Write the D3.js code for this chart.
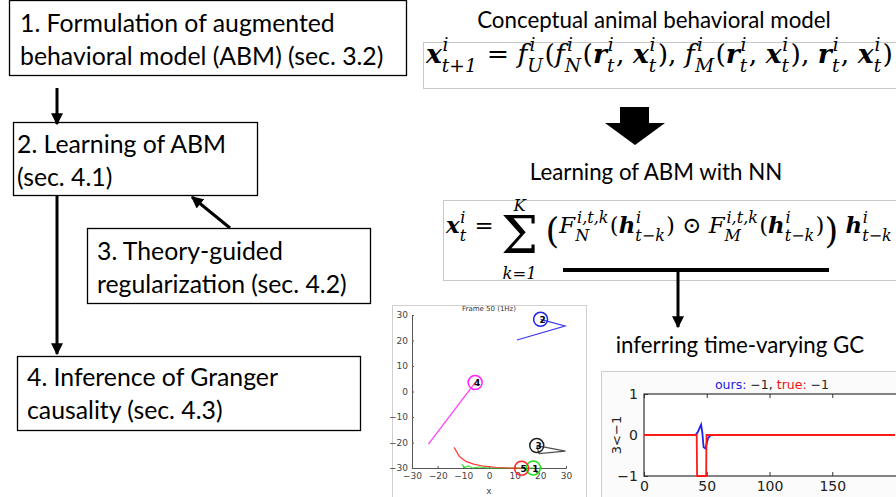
<!DOCTYPE html>
<html>
<head>
<meta charset="utf-8">
<script src="https://cdn.jsdelivr.net/npm/d3@7"></script>
<style>
	body { margin: 0; background: #fff; }
	svg { display: block; }
	.lbl { font-family: Lato, 'Open Sans', sans-serif; fill: #000; }
	.math text { font-family: 'DejaVu Serif', serif; fill: #000; white-space: pre; }
</style>
</head>
<body>
<div id="box"></div>
<script>
// --- data -----------------------------------------------------------------

const stepBoxes = [
	{ id: 1, lines: ['1. Formulation of augmented', 'behavioral model (ABM) (sec. 3.2)'] },
	{ id: 2, lines: ['2. Learning of ABM', '(sec. 4.1)'] },
	{ id: 3, lines: ['3. Theory-guided', 'regularization (sec. 4.2)'] },
	{ id: 4, lines: ['4. Inference of Granger', 'causality (sec. 4.3)'] },
];

const headings = ['Conceptual animal behavioral model', 'Learning of ABM with NN', 'inferring time-varying GC'];

// trajectories in the frame plot, [x, y]
const agentIds = ['1', '2', '3', '4', '5'];
const agentColors = ['#22dd22', '#2222ee', '#222222', '#ff22ff', '#ff2222'];
const trackGreen = [[-10.6, -28.6], [-9.5, -29.8], [-8, -29.2], [-6.5, -30], [-4, -29.6], [0, -30], [8, -30], [17.3, -30]];
const trackBlue = [[10.9, 20.2], [29.6, 25.7], [20.1, 28.3]];
const trackBlack = [[18.6, -21.2], [29.8, -23.4], [19.5, -24.4], [18.6, -21.2]];
const trackMagenta = [[-23.6, -20.6], [-5.4, 3.5]];
const trackRed = [[-13.6, -21.9], [-11.5, -25.5], [-9, -27.4], [-6, -28.5], [-2, -29.3], [3, -29.8], [8, -30], [12.7, -30.1]];
const frameTicks = [-30, -20, -10, 0, 10, 20, 30];

// GC time series 3<-1
const gcOurs = [[0, 0], [41, 0], [43, 0.08], [45.5, 0.25], [46.5, 0.05], [47.5, -0.3], [49, -0.33], [51, -0.08], [53, -0.01], [56, 0], [200, 0]];
const gcTrue = [[0, 0], [42, 0], [42.3, -1], [49.5, -1], [49.8, 0], [200, 0]];
const gcXTicks = [0, 50, 100, 150];
const gcYTicks = [-1, 0, 1];

// formulas: [base, sup, sub, style]  style: b = bold italic, i = italic, r = roman
const formulaABM = [
	['x', 'i', 't+1', 'b'], [' = ', '', '', 'r'], ['f', 'i', 'U', 'i'], ['(', '', '', 'r'],
	['f', 'i', 'N', 'i'], ['(', '', '', 'r'], ['r', 'i', 't', 'b'], [', ', '', '', 'r'], ['x', 'i', 't', 'b'],
	['), ', '', '', 'r'], ['f', 'i', 'M', 'i'], ['(', '', '', 'r'], ['r', 'i', 't', 'b'], [', ', '', '', 'r'],
	['x', 'i', 't', 'b'], ['), ', '', '', 'r'], ['r', 'i', 't', 'b'], [', ', '', '', 'r'], ['x', 'i', 't', 'b'],
	[')', '', '', 'r'],
];
const formulaNN = [
	['x', 'i', 't', 'b'], [' = ', '', '', 'r'], ['Σ', 'K', 'k=1', 'sum'], [' ', '', '', 'r'], ['(', '', '', 'big'],
	['F', 'i,t,k', 'N', 'i'], ['(', '', '', 'r'], ['h', 'i', 't−k', 'b'], [')', '', '', 'r'], [' ⊙ ', '', '', 'r'],
	['F', 'i,t,k', 'M', 'i'], ['(', '', '', 'r'], ['h', 'i', 't−k', 'b'], [')', '', '', 'r'], [')', '', '', 'big'],
	[' ', '', '', 'r'], ['h', 'i', 't−k', 'b'],
];

// --- drawing --------------------------------------------------------------

const width = 896;
const height = 497;

const svg = d3.select('#box').append('svg')
	.attr('width', width)
	.attr('height', height)
	.attr('viewBox', [0, 0, width, height]);

svg.append('defs').append('marker')
	.attr('id', 'head')
	.attr('viewBox', '0 0 10 10')
	.attr('refX', 9)
	.attr('refY', 5)
	.attr('markerWidth', 4.2)
	.attr('markerHeight', 4)
	.attr('orient', 'auto')
	.append('path')
	.attr('d', 'M0,0L10,5L0,10z')
	.attr('fill', '#000');

function arrow(x1, y1, x2, y2) {
	svg.append('line')
		.attr('x1', x1).attr('y1', y1)
		.attr('x2', x2).attr('y2', y2)
		.attr('stroke', '#000')
		.attr('stroke-width', 3)
		.attr('marker-end', 'url(#head)');
}

// left flow chart
const boxPos = {
	1: { x: 9, y: 0, w: 397, h: 75, tx: 20, ty: 32 },
	2: { x: 13, y: 122, w: 244, h: 73, tx: 17, ty: 153 },
	3: { x: 87, y: 228, w: 283, h: 75, tx: 97, ty: 260 },
	4: { x: 17, y: 356, w: 343, h: 74, tx: 27, ty: 386 },
};

for (const b of stepBoxes) {
	const p = boxPos[b.id];
	svg.append('rect')
		.attr('x', p.x + 0.5).attr('y', p.y + 0.5)
		.attr('width', p.w).attr('height', p.h)
		.attr('fill', '#fff')
		.attr('stroke', '#000')
		.attr('stroke-width', 1.3);
	svg.append('text')
		.attr('class', 'lbl')
		.attr('font-size', 24.8)
		.selectAll('tspan')
		.data(b.lines)
		.join('tspan')
		.attr('x', p.tx)
		.attr('y', (_, i) => p.ty + i * 33)
		.text(d => d);
}

arrow(57, 88, 57, 124);
arrow(57, 195, 57, 354);
arrow(230, 228, 192, 197);

// right column headings
svg.append('text').attr('class', 'lbl').attr('font-size', 22.3)
	.attr('x', 654).attr('y', 28).attr('text-anchor', 'middle').text(headings[0]);
svg.append('text').attr('class', 'lbl').attr('font-size', 22.3)
	.attr('x', 656).attr('y', 180).attr('text-anchor', 'middle').text(headings[1]);
svg.append('text').attr('class', 'lbl').attr('font-size', 22.3)
	.attr('x', 740).attr('y', 353).attr('text-anchor', 'middle').text(headings[2]);

// formula boxes
svg.append('rect').attr('x', 423.5).attr('y', 42.5).attr('width', 500).attr('height', 46)
	.attr('fill', '#fff').attr('stroke', '#c8c8c8');
svg.append('rect').attr('x', 443.5).attr('y', 200.5).attr('width', 500).attr('height', 80)
	.attr('fill', '#fff').attr('stroke', '#c8c8c8');

function renderMath(g, tokens, size) {
	let x = 0;
	const put = (t, px, py, fs, style) => g.append('text')
		.attr('x', px).attr('y', py)
		.style('font-size', fs + 'px')
		.style('font-style', style === 'b' || style === 'i' ? 'italic' : 'normal')
		.style('font-weight', style === 'b' ? 'bold' : 'normal')
		.text(t);
	for (const [base, sup, sub, style] of tokens) {
		if (style === 'sum') {
			const s = put(base, x, size * 0.86, size * 2.3, 'r');
			const w = s.node().getComputedTextLength();
			put(sup, x + w / 2, -size * 0.95, size * 0.72, 'i').attr('text-anchor', 'middle');
			put(sub, x + w / 2, size * 2.0, size * 0.72, 'i').attr('text-anchor', 'middle');
			x += w;
			continue;
		}
		if (style === 'big') {
			const s = put(base, x, size * 0.42, size * 1.55, 'r');
			x += s.node().getComputedTextLength();
			continue;
		}
		const s = put(base, x, 0, size, style);
		x += s.node().getComputedTextLength();
		let sw = 0;
		if (sup) {
			const t = put(sup, x + (style === 'i' ? 1.5 : 0.5), -size * 0.45, size * 0.7, 'i');
			sw = Math.max(sw, t.node().getComputedTextLength() + (style === 'i' ? 1.5 : 0.5));
		}
		if (sub) {
			const t = put(sub, x, size * 0.33, size * 0.7, 'i');
			sw = Math.max(sw, t.node().getComputedTextLength());
		}
		x += sw ? sw + 1 : 0;
	}
	return x;
}

function formula(tokens, x, y, size, target) {
	const g = svg.append('g').attr('class', 'math');
	const w = renderMath(g, tokens, size);
	const k = target / w;
	g.attr('transform', `translate(${x},${y}) scale(${k})`);
}

formula(formulaABM, 426, 63, 18, 467);
formula(formulaNN, 446, 233, 18, 447);

// big block arrow
svg.append('path')
	.attr('d', d3.line()([[620, 107], [649, 107], [649, 123], [665, 123], [635, 145], [605, 123], [620, 123]]) + 'Z')
	.attr('fill', '#000');

// bar under the NN formula and the arrow down
svg.append('line').attr('x1', 563).attr('x2', 829).attr('y1', 270).attr('y2', 270)
	.attr('stroke', '#000').attr('stroke-width', 4);
arrow(678, 270, 678, 327);

// frame plot (screenshot panel)
svg.append('rect').attr('x', 392.5).attr('y', 305.5).attr('width', 194).attr('height', 200)
	.attr('fill', '#fff').attr('stroke', '#cfcfcf');

const fx = d3.scaleLinear([-30, 30], [412, 566]);
const fy = d3.scaleLinear([-30, 30], [468, 315]);

svg.append('text').attr('x', 489).attr('y', 311).attr('text-anchor', 'middle')
	.attr('font-family', 'DejaVu Sans').attr('font-size', 7).attr('fill', '#333').text('Frame 50 (1Hz)');

const fAxisX = svg.append('g')
	.attr('transform', `translate(0,${fy(-30)})`)
	.call(d3.axisBottom(fx).tickValues(frameTicks).tickSize(-2).tickPadding(5));
const fAxisY = svg.append('g')
	.attr('transform', `translate(${fx(-30)},0)`)
	.call(d3.axisLeft(fy).tickValues(frameTicks).tickSize(-2).tickPadding(4));
for (const a of [fAxisX, fAxisY]) {
	a.selectAll('text').attr('font-family', 'DejaVu Sans').attr('font-size', 9).attr('fill', '#444')
		.text(d => d < 0 ? '−' + Math.abs(d) : d);
	a.selectAll('line, path').attr('stroke', '#555');
}
svg.append('text').attr('x', 489).attr('y', 494).attr('text-anchor', 'middle')
	.attr('font-family', 'DejaVu Sans').attr('font-size', 9).attr('fill', '#444').text('x');

const tracks = [trackGreen, trackBlue, trackBlack, trackMagenta, trackRed];
const fline = d3.line().x(d => fx(d[0])).y(d => fy(d[1]));
tracks.forEach((tr, i) => {
	svg.append('path')
		.attr('d', fline(tr))
		.attr('fill', 'none')
		.attr('stroke', agentColors[i])
		.attr('stroke-width', 1.2)
		.attr('stroke-opacity', i === 2 ? 0.8 : 0.9);
});
tracks.forEach((tr, i) => {
	const end = i === 2 ? tr[0] : tr[tr.length - 1];
	svg.append('circle')
		.attr('cx', fx(end[0])).attr('cy', fy(end[1]))
		.attr('r', 7)
		.attr('fill', 'none')
		.attr('stroke', agentColors[i])
		.attr('stroke-width', 1.5);
	svg.append('text')
		.attr('x', fx(end[0]) + 2).attr('y', fy(end[1]) + 3.5)
		.attr('text-anchor', 'middle')
		.attr('font-family', 'DejaVu Sans')
		.attr('font-weight', 'bold')
		.attr('font-size', 9)
		.attr('fill', '#000')
		.text(agentIds[i]);
});

// GC time series panel
svg.append('rect').attr('x', 601.5).attr('y', 371.5).attr('width', 300).attr('height', 130)
	.attr('fill', '#fbfbfb').attr('stroke', '#d0d0d0');

const gx = d3.scaleLinear([0, 200], [644, 895]);
const gy = d3.scaleLinear([-1, 1], [476, 394]);

svg.append('rect').attr('x', 644).attr('y', 394).attr('width', 260).attr('height', 82)
	.attr('fill', '#fff').attr('stroke', '#333').attr('stroke-width', 1.2);

const gAxisX = svg.append('g')
	.attr('transform', `translate(0,${gy(-1)})`)
	.call(d3.axisBottom(gx).tickValues(gcXTicks).tickSize(-4).tickPadding(5));
svg.append('g')
	.attr('transform', `translate(0,${gy(1)})`)
	.call(d3.axisTop(gx).tickValues(gcXTicks).tickSize(-4).tickFormat(''))
	.call(g => g.select('.domain').remove())
	.selectAll('line').attr('stroke', '#333');
const gAxisY = svg.append('g')
	.attr('transform', `translate(${gx(0)},0)`)
	.call(d3.axisLeft(gy).tickValues(gcYTicks).tickSize(-4).tickPadding(6));
for (const a of [gAxisX, gAxisY]) {
	a.select('.domain').remove();
	a.selectAll('line').attr('stroke', '#333');
	a.selectAll('text').attr('font-family', 'DejaVu Sans').attr('font-size', 14).attr('fill', '#222')
		.text(d => d < 0 ? '−' + Math.abs(d) : d);
}

svg.append('text')
	.attr('transform', `translate(621,${gy(0)}) rotate(-90)`)
	.attr('text-anchor', 'middle')
	.attr('font-family', 'DejaVu Sans').attr('font-size', 13).attr('fill', '#222')
	.text('3<−1');

const title = svg.append('text')
	.attr('x', 772).attr('y', 389)
	.attr('text-anchor', 'middle')
	.attr('font-family', 'DejaVu Sans').attr('font-size', 12.5).attr('fill', '#222');
title.append('tspan').attr('fill', '#2020e0').text('ours:');
title.append('tspan').text(' −1,  ');
title.append('tspan').attr('fill', '#ee1010').text('true:');
title.append('tspan').text(' −1');

const gline = d3.line().x(d => gx(d[0])).y(d => gy(d[1]));
svg.append('path').attr('d', gline(gcOurs)).attr('fill', 'none')
	.attr('stroke', '#2020ee').attr('stroke-width', 1.8);
svg.append('path').attr('d', gline(gcTrue)).attr('fill', 'none')
	.attr('stroke', '#ff1a1a').attr('stroke-width', 1.8);
</script>
</body>
</html>
